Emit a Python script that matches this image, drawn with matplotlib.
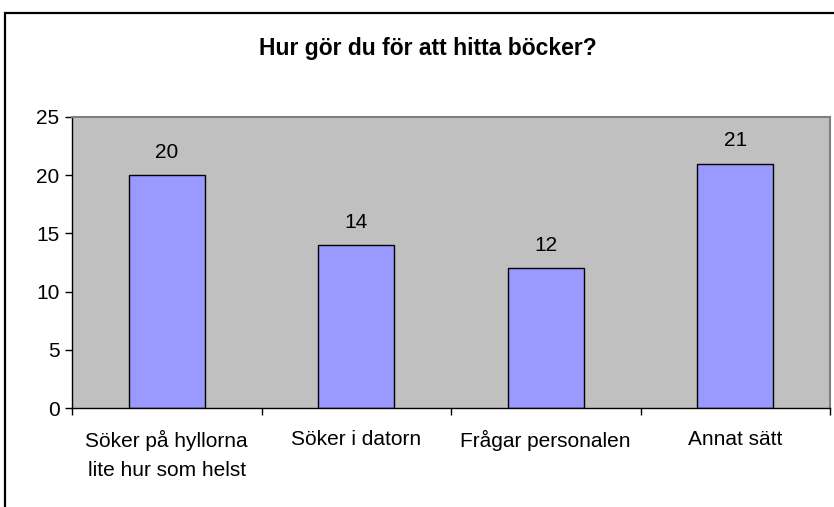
import numpy as np
import matplotlib.pyplot as plt
from matplotlib.patches import Rectangle

categories = ["Söker på hyllorna\nlite hur som helst", "Söker i datorn", "Frågar personalen", "Annat sätt"]
values = [20, 14, 12, 21]
yticks = [0, 5, 10, 15, 20, 25]

plt.rcParams["font.family"] = ["Liberation Sans", "DejaVu Sans"]

fig = plt.figure(figsize=(8.34, 5.07), dpi=100)
# outer chart frame (runs off the right and bottom edge)
fig.patches.append(Rectangle((5 / 834, -0.1), 1.1, 0.1 + 1 - 13 / 507, transform=fig.transFigure,
                             fill=False, edgecolor="black", linewidth=1.6))

ax = fig.add_axes([72 / 834, 1 - 408 / 507, (830 - 72) / 834, (408 - 117) / 507])
ax.set_facecolor("#C0C0C0")

x = np.arange(len(categories))
bars = ax.bar(x, values, width=0.4, color="#9999FF", edgecolor="black", linewidth=1.0, zorder=2)
for xi, v in zip(x, values):
    ax.annotate(str(v), (xi, v), xytext=(0, 16.5), textcoords="offset points",
                ha="center", va="center", fontsize=15)

ax.set_xlim(-0.5, len(categories) - 0.5)
ax.set_ylim(0, 25)
ax.set_yticks(yticks)
ax.tick_params(axis="y", labelsize=15, length=5, direction="out", width=1, pad=4)
ax.set_xticks(np.arange(len(categories) + 1) - 0.5)
ax.set_xticklabels([])
ax.tick_params(axis="x", length=5, direction="out", width=1)
ax.set_xticks(x, minor=True)
ax.set_xticklabels(categories, minor=True, fontsize=15, linespacing=1.68)
ax.tick_params(axis="x", which="minor", length=0, pad=16)

for s in ["top", "right"]:
    ax.spines[s].set_color("#808080")
    ax.spines[s].set_linewidth(1.5)
for s in ["left", "bottom"]:
    ax.spines[s].set_color("black")
    ax.spines[s].set_linewidth(1.0)

fig.text(428 / 834, 1 - 48 / 507, "Hur gör du för att hitta böcker?", ha="center", va="center",
         fontsize=16.5, fontweight="bold")

fig.savefig("out.png", dpi=100)
